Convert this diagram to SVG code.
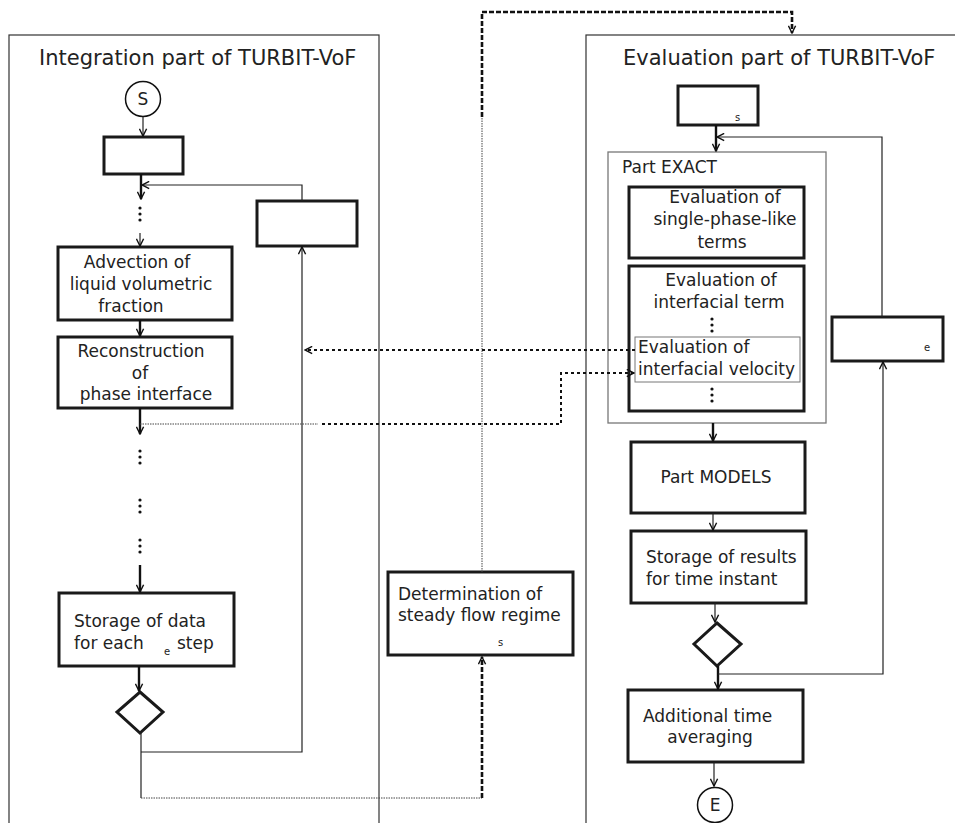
<svg xmlns="http://www.w3.org/2000/svg" width="955" height="823" viewBox="0 0 955 823">
<defs>
<style>
text{font-family:"DejaVu Sans","Liberation Sans",sans-serif;fill:#222;}
.t{font-size:17px;}
.ttl{font-size:21px;}
.sub{font-size:10px;}
.panel{fill:none;stroke:#333;stroke-width:1.2;}
.box{fill:#fff;stroke:#1a1a1a;stroke-width:3;}
.gbox{fill:none;stroke:#777;stroke-width:1.3;}
.thin{fill:none;stroke:#222;stroke-width:1.2;}
.thick{fill:none;stroke:#111;stroke-width:2.4;}
.dot{fill:none;stroke:#111;stroke-width:2;stroke-dasharray:3 3;}
.fine{fill:none;stroke:#444;stroke-width:1;stroke-dasharray:1.5 1;}
.dash{fill:none;stroke:#111;stroke-width:2.6;stroke-dasharray:5 2;}
.ell{fill:#111;}
</style>
<marker id="a" viewBox="0 0 10 10" refX="9" refY="5" markerWidth="9" markerHeight="9" markerUnits="userSpaceOnUse" orient="auto">
<path d="M1,1 L9,5 L1,9" fill="none" stroke="#111" stroke-width="1.6"/>
</marker>
</defs>

<g id="panel-integration">
<rect class="panel" x="9" y="35" width="370" height="820"/>
<text class="ttl" x="39" y="65">Integration part of TURBIT-VoF</text>
</g>
<g id="panel-evaluation">
<rect class="panel" x="586" y="35" width="400" height="820"/>
<text class="ttl" x="623" y="65">Evaluation part of TURBIT-VoF</text>
</g>

<g id="start">
<circle cx="143" cy="99" r="17.5" fill="#fff" stroke="#111" stroke-width="1.5"/>
<text class="t" x="143" y="105" text-anchor="middle">S</text>
</g>
<g id="box-init">
<rect class="box" x="104" y="137" width="79" height="37"/>
</g>
<g id="box-loop-left">
<rect class="box" x="257" y="201" width="100" height="45"/>
</g>
<g id="box-advection">
<rect class="box" x="58" y="247" width="174" height="73"/>
<text class="t" x="137" y="268" text-anchor="middle">Advection of</text>
<text class="t" x="141" y="290" text-anchor="middle">liquid volumetric</text>
<text class="t" x="131" y="312" text-anchor="middle">fraction</text>
</g>
<g id="box-reconstruction">
<rect class="box" x="58" y="337" width="174" height="71"/>
<text class="t" x="141" y="357" text-anchor="middle">Reconstruction</text>
<text class="t" x="140" y="379" text-anchor="middle">of</text>
<text class="t" x="146" y="400" text-anchor="middle">phase interface</text>
</g>
<g id="box-storage-data">
<rect class="box" x="59" y="593" width="175" height="73"/>
<text class="t" x="74" y="627">Storage of data</text>
<text class="t" x="74" y="649">for each</text>
<text class="sub" x="164" y="655">e</text>
<text class="t" x="177" y="649">step</text>
</g>
<g id="decision-left">
<polygon class="box" points="140,692 163,712 140,733 117,712" fill="none"/>
</g>
<g id="box-steady">
<rect class="box" x="388" y="572" width="185" height="83"/>
<text class="t" x="398" y="600">Determination of</text>
<text class="t" x="398" y="621">steady flow regime</text>
<text class="sub" x="498" y="646">s</text>
</g>

<g id="box-eval-init">
<rect class="box" x="678" y="86" width="80" height="39"/>
<text class="sub" x="735" y="121">s</text>
</g>
<g id="group-exact">
<rect class="gbox" x="608" y="152" width="218" height="271"/>
<text class="t" x="622" y="173">Part EXACT</text>
</g>
<g id="box-single-phase">
<rect class="box" x="629" y="187" width="175" height="71"/>
<text class="t" x="725" y="203" text-anchor="middle">Evaluation of</text>
<text class="t" x="725" y="225" text-anchor="middle">single-phase-like</text>
<text class="t" x="722" y="248" text-anchor="middle">terms</text>
</g>
<g id="box-interfacial-term">
<rect class="box" x="629" y="266" width="175" height="145"/>
<text class="t" x="721" y="286" text-anchor="middle">Evaluation of</text>
<text class="t" x="719" y="308" text-anchor="middle">interfacial term</text>
<circle class="ell" cx="712" cy="319" r="1.6"/><circle class="ell" cx="712" cy="325" r="1.6"/><circle class="ell" cx="712" cy="331" r="1.6"/>
<circle class="ell" cx="712" cy="389" r="1.6"/><circle class="ell" cx="712" cy="395" r="1.6"/><circle class="ell" cx="712" cy="401" r="1.6"/>
</g>
<g id="box-interfacial-velocity">
<rect x="635" y="337" width="165" height="45" fill="#fff" stroke="#777" stroke-width="1"/>
<text class="t" x="638" y="353">Evaluation of</text>
<text class="t" x="638" y="375">interfacial velocity</text>
</g>
<g id="box-loop-right">
<rect class="box" x="832" y="317" width="111" height="44"/>
<text class="sub" x="924" y="351">e</text>
</g>
<g id="box-models">
<rect class="box" x="631" y="442" width="174" height="71"/>
<text class="t" x="716" y="483" text-anchor="middle">Part MODELS</text>
</g>
<g id="box-storage-results">
<rect class="box" x="631" y="531" width="175" height="72"/>
<text class="t" x="646" y="563">Storage of results</text>
<text class="t" x="646" y="585">for time instant</text>
</g>
<g id="decision-right">
<polygon class="box" points="717,623 741,644 717,666 694,644" fill="none"/>
</g>
<g id="box-averaging">
<rect class="box" x="628" y="690" width="175" height="72"/>
<text class="t" x="643" y="722">Additional time</text>
<text class="t" x="710" y="743" text-anchor="middle">averaging</text>
</g>
<g id="end">
<circle cx="715" cy="805" r="17.5" fill="#fff" stroke="#111" stroke-width="1.5"/>
<text class="t" x="715" y="811" text-anchor="middle">E</text>
</g>

<g id="connectors">
<!-- left flow -->
<line class="thin" x1="143" y1="117" x2="143" y2="136" marker-end="url(#a)"/>
<line class="thick" x1="141" y1="174" x2="141" y2="199" marker-end="url(#a)"/>
<polyline class="thin" points="302,201 302,185 142,185" marker-end="url(#a)"/>
<circle class="ell" cx="140" cy="208" r="1.6"/><circle class="ell" cx="140" cy="214" r="1.6"/><circle class="ell" cx="140" cy="220" r="1.6"/>
<line class="thin" x1="140" y1="233" x2="140" y2="246" marker-end="url(#a)"/>
<line class="thick" x1="140" y1="320" x2="140" y2="336" marker-end="url(#a)"/>
<line class="thick" x1="140" y1="408" x2="140" y2="434" marker-end="url(#a)"/>
<circle class="ell" cx="140" cy="451" r="1.6"/><circle class="ell" cx="140" cy="457" r="1.6"/><circle class="ell" cx="140" cy="463" r="1.6"/>
<circle class="ell" cx="140" cy="500" r="1.6"/><circle class="ell" cx="140" cy="506" r="1.6"/><circle class="ell" cx="140" cy="512" r="1.6"/>
<circle class="ell" cx="140" cy="540" r="1.6"/><circle class="ell" cx="140" cy="546" r="1.6"/><circle class="ell" cx="140" cy="552" r="1.6"/>
<line class="thick" x1="140" y1="565" x2="140" y2="592" marker-end="url(#a)"/>
<line class="thick" x1="139" y1="666" x2="139" y2="691" marker-end="url(#a)"/>
<line class="thin" x1="141" y1="733" x2="141" y2="798" stroke="#555"/>
<polyline class="thin" points="141,752 302,752 302,247" stroke="#555" marker-end="url(#a)"/>
<line class="fine" x1="141" y1="798" x2="482" y2="798"/>
<line class="dash" x1="482" y1="798" x2="482" y2="657" marker-end="url(#a)"/>
<!-- top connector -->
<line class="fine" x1="482" y1="572" x2="482" y2="117"/>
<polyline class="dash" points="482,117 482,12 792,12 792,33" marker-end="url(#a)"/>
<!-- middle dotted connectors -->
<line class="dot" x1="635" y1="350" x2="305" y2="350" marker-end="url(#a)"/>
<line class="fine" x1="140" y1="424" x2="318" y2="424"/>
<polyline class="dot" points="322,424 561,424 561,373 634,373" marker-end="url(#a)"/>
<!-- right flow -->
<line class="thick" x1="716" y1="125" x2="716" y2="151" marker-end="url(#a)"/>
<polyline class="thin" points="882,317 882,137 717,137" marker-end="url(#a)"/>
<line class="thick" x1="713" y1="423" x2="713" y2="441" marker-end="url(#a)"/>
<line class="thin" x1="713" y1="513" x2="713" y2="530" marker-end="url(#a)"/>
<line class="thin" x1="715" y1="603" x2="715" y2="622" marker-end="url(#a)"/>
<line class="thick" x1="718" y1="666" x2="718" y2="689" marker-end="url(#a)"/>
<polyline class="thin" points="718,674 883,674 883,362" marker-end="url(#a)"/>
<line class="thin" x1="714" y1="762" x2="714" y2="786" marker-end="url(#a)"/>
</g>
</svg>
